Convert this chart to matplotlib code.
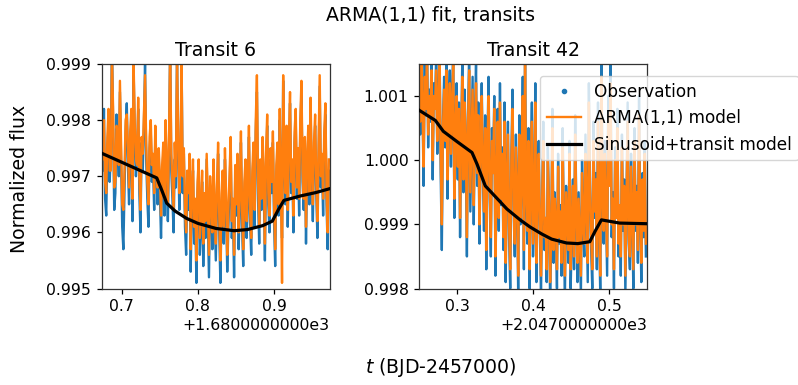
import numpy as np
import matplotlib
matplotlib.use("Agg")
import matplotlib.pyplot as plt
from matplotlib.lines import Line2D
from matplotlib.ticker import FormatStrFormatter, FuncFormatter

# ---------------- data (flux values in ppm relative to 1) ----------------
cadence = 0.0015  # days
t6_start = 1680.6735
t42_start = 2047.25
x_offsets = [1680.0, 2047.0]
offset_labels = ["+1.6800000000e3", "+2.0470000000e3"]

obs6_ppm = [
    -2300, -2900, -1800, -3400, -3700, -2500, -2100, -3100, -2600, -500,
    -2000, -3600, -3300, -1900, -2400, -3000, -1500, -2700, -3900, -4300,
    -3200, -2200, -1700, -2800, -3500, -2500, -2000, -3800, -1100, -2300,
    -3000, -2600, -1800, -3300, -4000, -2400, -2900, -2100, -1000, -2700,
    -3400, -3900, -2500, -2200, -3100, -2800, -3600, -2300, -3000, -3500,
    -2700, -3300, -4100, -3000, -2600, -3700, -2200, -3100, -3800, -2500,
    -600, -2900, -3400, -4000, -2700, -3200, -800, -2400, -3600, -3000,
    -900, -3300, -2600, -3900, -4400, -3100, -3600, -2800, -4700, -3400,
    -2900, -4200, -3700, -4900, -3300, -2800, -4400, -3900, -3100, -4600,
    -3500, -4100, -2700, -3800, -4800, -3200, -3600, -4300, -2900, -3700,
    -4500, -3400, -2600, -4000, -4900, -3600, -3100, -4200, -2700, -3500,
    -4700, -3900, -3200, -2500, -4100, -3600, -4800, -3000, -3700, -2800,
    -4300, -3500, -2400, -3900, -4600, -3300, -2900, -4100, -3400, -2300,
    -3800, -4400, -3100, -2600, -3900, -2200, -1500, -3400, -4200, -2900,
    -3600, -2500, -3200, -4500, -2800, -2100, -3500, -4000, -2700, -3300,
    -2400, -3800, -4600, -3000, -2600, -3700, -2000, -3200, -4100, -1300,
    -2800, -3500, -2300, -3900, -2600, -1700, -3300, -2900, -4000, -2400,
    -2000, -3400, -2700, -3700, -2200, -1500, -3100, -3600, -2500, -4200,
    -2900, -2300, -3500, -1800, -3000, -3800, -2600, -2100, -3300, -4100,
    -2700, -1400, -3200, -2800, -3700, -2400, -1900, -3500, -4300, -2900,
]
arma6_ppm = [
    -2500, -2700, -2000, -3100, -3300, -2300, -1800, -2900, -2900, -800,
    -1800, -3200, -3100, -2100, -2200, -2800, -1300, -2400, -3500, -3600,
    -2900, -2000, -1900, -2500, -3200, -2200, -1800, -3400, -1000, -2100,
    -2700, -2800, -1600, -3000, -3600, -2300, -2600, -1900, -1200, -2400,
    -3100, -3500, -2300, -2000, -2800, -2600, -3300, -2100, -2800, -3200,
    -2500, -3000, -3700, -2800, -2400, -3400, -2000, -2800, -3500, -2300,
    -700, -2600, -3100, -3600, -2400, -3000, -900, -2200, -3300, -2800,
    -1000, -3000, -2500, -3600, -4000, -2900, -3300, -2600, -4300, -3200,
    -2700, -3900, -3400, -4500, -3100, -2700, -4100, -3600, -2900, -4200,
    -3300, -3800, -2600, -3500, -4400, -3000, -3400, -4000, -2700, -3500,
    -4200, -3200, -2400, -3700, -4500, -3300, -2900, -3900, -2500, -3300,
    -4400, -3600, -3000, -2300, -3800, -3400, -4400, -2800, -3500, -2600,
    -4000, -3300, -2200, -3600, -4300, -3100, -2700, -3800, -3200, -2100,
    -3600, -4100, -2900, -2400, -3600, -2000, -1200, -3100, -3900, -2700,
    -3400, -2300, -3000, -4200, -2600, -1900, -3300, -3700, -2500, -3100,
    -2200, -3500, -4300, -2800, -2400, -3500, -1800, -3000, -4900, -1200,
    -2600, -3300, -2100, -3600, -2400, -1500, -3100, -2700, -3700, -2200,
    -1800, -3200, -2500, -3400, -2000, -1300, -2900, -3400, -2300, -3900,
    -2700, -2100, -3300, -1600, -2800, -3500, -2400, -1900, -3100, -3800,
    -2500, -1200, -3000, -2600, -3400, -2200, -1700, -3300, -4000, -2700,
]
obs42_ppm = [
    1300, 400, 1800, 900, -400, 1500, 700, 2000, 200, 1100,
    600, 1700, -300, 1200, 800, 1600, 100, 900, 1900, -200,
    -1400, 600, 1300, 200, 1700, -600, 800, 1400, -100, 1000,
    1800, -900, 500, 1200, -300, 900, -1200, 400, 1600, -500,
    1100, 200, -1500, 700, 1700, -800, 300, 1300, -1000, 600,
    1500, -400, 900, -1300, 100, 1200, -200, -1100, 700, -1700,
    300, 1300, -600, -1500, 500, -200, 1000, -1800, -400, 800,
    -1100, 1200, -700, 200, -1400, 900, -1900, -300, 600, -1200,
    -2000, 100, 1100, -800, -1500, 400, -500, -2100, 700, -1000,
    -300, 1300, -1700, 1800, -600, -1300, 500, -2000, -200, 900,
    -1500, -800, 1200, -1900, -400, 300, -1100, -2100, -600, 600,
    -1400, -900, -1900, 200, -700, -2200, -1200, 800, -1600, -500,
    -1000, -2000, 100, -1300, -700, -1800, 500, -1100, -2100, -400,
    -900, -1600, 300, -2000, -1200, -300, -1700, 700, -800, -1900,
    -500, -1300, -2100, 0, -1000, -1500, 400, -700, -1900, 1200,
    -400, -1400, -2000, 600, -900, -200, -1700, 900, -1100, -2100,
    1600, -600, -1300, 300, -800, -1800, 1000, -300, 1500, -1200,
    -500, -2000, 200, -900, 800, -1500, -700, -1800, 400, -1100,
    -300, -2100, -600, 900, -1300, -1700, 100, -900, -2000, 500,
    -1100, -400, -1600, 1000, -800, -1900, -200, -1200, 300, -1500,
]
arma42_ppm = [
    1100, 600, 1500, 900, -100, 1300, 800, 1700, 400, 1000,
    700, 1400, 0, 1000, 800, 1400, 300, 900, 1600, 100,
    -1000, 500, 1100, 300, 1400, -300, 700, 1200, 100, 900,
    1500, -600, 500, 1000, -100, 800, -900, 400, 1300, -300,
    900, 300, -1200, 600, 1400, -500, 300, 1100, -700, 500,
    1200, -200, 700, -1000, 100, 1000, -100, -800, 500, -1400,
    200, 1000, -400, -1200, 300, -200, 800, -1500, -300, 600,
    -900, 900, -600, 100, -1200, 600, -1600, -300, 400, -1000,
    -1700, 0, 800, -700, -1300, 200, -500, -1800, 400, -900,
    -300, 1000, -1400, 1500, -500, -1100, 300, -1700, -300, 600,
    -1300, -800, 900, -1600, -500, 100, -1000, -1800, -600, 300,
    -1200, -900, -1700, 0, -700, -1900, -1100, 500, -1400, -600,
    -1000, -1700, -100, -1200, -800, -1600, 200, -1000, -1800, -500,
    -900, -1400, 100, -1700, -1100, -400, -1500, 400, -800, -1600,
    -600, -1200, -1800, -200, -1000, -1300, 100, -700, -1600, 900,
    -500, -1200, -1700, 300, -800, -300, -1500, 600, -1000, -1800,
    1300, -500, -1100, 100, -800, -1500, 700, -400, 1200, -1000,
    -600, -1700, 0, -900, 500, -1300, -700, -1500, 200, -1000,
    -400, -1800, -600, 600, -1200, -1500, -100, -900, -1700, 300,
    -1000, -500, -1400, 700, -800, -1600, -300, -1100, 100, -1300,
]

# Sinusoid+transit model
model6_t = [1680.6735, 1680.7459, 1680.7525, 1680.7590, 1680.7700, 1680.7850, 1680.8000, 1680.8238,
            1680.8474, 1680.8650, 1680.8850, 1680.8977, 1680.9055, 1680.9130, 1680.9350, 1680.9550,
            1680.9735]
model6_f = [0.99741, 0.99697, 0.99675, 0.99652, 0.99638, 0.99625, 0.99616, 0.99607,
            0.99603, 0.99605, 0.99612, 0.99620, 0.99640, 0.99657, 0.99665, 0.99671,
            0.99678]
model42_t = [2047.2500, 2047.2715, 2047.2820, 2047.3000, 2047.3197, 2047.3263, 2047.3372, 2047.3656,
             2047.3830, 2047.3960, 2047.4115, 2047.4245, 2047.4440, 2047.4590, 2047.4747, 2047.4820,
             2047.4900, 2047.5140, 2047.5500]
model42_f = [1.00078, 1.00062, 1.00045, 1.00029, 1.00012, 0.99994, 0.99960, 0.99924,
             0.99907, 0.99896, 0.99885, 0.99877, 0.99871, 0.99870, 0.99873, 0.99890,
             0.99907, 0.99902, 0.99901]

titles = ["Transit 6", "Transit 42"]
xlims = [(1680.6735, 1680.9735), (2047.25, 2047.55)]
ylims = [(0.995, 0.999), (0.998, 1.0015)]
yticks = [[0.995, 0.996, 0.997, 0.998, 0.999], [0.998, 0.999, 1.000, 1.001]]

# ---------------- figure ----------------
S = 1.13
plt.rcParams.update({
    "font.size": 10 * S,
    "axes.linewidth": 0.8 * S,
    "xtick.major.width": 0.8 * S,
    "ytick.major.width": 0.8 * S,
    "xtick.major.size": 3.5 * S,
    "ytick.major.size": 3.5 * S,
    "xtick.labelsize": 10 * S,
    "ytick.labelsize": 10 * S,
    "axes.titlesize": 12 * S,
    "axes.edgecolor": "#333333",
})

fig = plt.figure(figsize=(7.98, 3.85), dpi=100)
ax1 = fig.add_axes([0.1274, 0.2506, 0.2861, 0.5832])
ax2 = fig.add_axes([0.5251, 0.2506, 0.2857, 0.5832])

datasets = [
    (t6_start, obs6_ppm, arma6_ppm, model6_t, model6_f),
    (t42_start, obs42_ppm, arma42_ppm, model42_t, model42_f),
]
for i, (ax, (t0, obs, arma, mt, mf)) in enumerate(zip([ax1, ax2], datasets)):
    t = t0 + cadence * np.arange(len(obs))
    obs_f = 1 + np.array(obs) * 1e-6
    arma_f = 1 + np.array(arma) * 1e-6
    ax.plot(t, obs_f, color="#1f77b4", lw=1.7, zorder=1)
    ax.plot(t, arma_f, color="#ff7f0e", lw=1.7, zorder=2)
    ax.plot(mt, mf, color="black", lw=2.3, zorder=3)
    ax.set_xlim(*xlims[i])
    ax.set_ylim(*ylims[i])
    ax.set_yticks(yticks[i])
    ax.yaxis.set_major_formatter(FormatStrFormatter("%.3f"))
    off = x_offsets[i]
    fmt = FuncFormatter(lambda x, p, off=off: f"{x - off:.1f}")
    fmt.set_offset_string(offset_labels[i])
    ax.xaxis.set_major_formatter(fmt)
    ax.set_title(titles[i], pad=6)

handles = [
    Line2D([], [], color="#1f77b4", marker=".", ls="", markersize=6),
    Line2D([], [], color="#ff7f0e", lw=1.7),
    Line2D([], [], color="black", lw=2.3),
]
labels = ["Observation", "ARMA(1,1) model", "Sinusoid+transit model"]
ax2.legend(handles, labels, loc="upper left", bbox_to_anchor=(0.6767, 0.8026),
           bbox_transform=fig.transFigure, fontsize=12.2, borderaxespad=0,
           framealpha=0.8)

fig.suptitle("ARMA(1,1) fit, transits", x=0.54, y=0.985, fontsize=12 * S)
fig.text(0.552, 0.045, "$t$ (BJD-2457000)", ha="center", va="center", fontsize=12 * S)
fig.text(0.024, 0.536, "Normalized flux", ha="center", va="center", rotation=90, fontsize=12 * S)

fig.savefig("out.png", dpi=100)
